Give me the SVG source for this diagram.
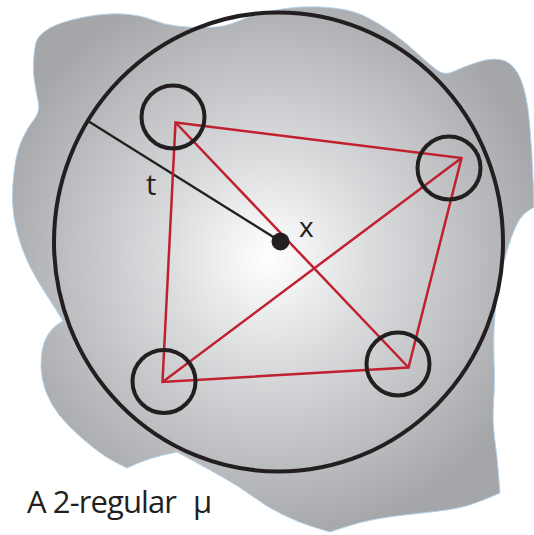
<svg xmlns="http://www.w3.org/2000/svg" width="534" height="535" viewBox="0 0 534 535">
<defs>
<radialGradient id="g" gradientUnits="userSpaceOnUse" cx="268" cy="258" r="285">
<stop offset="0" stop-color="#ffffff"/>
<stop offset="0.35" stop-color="#dcdddf"/>
<stop offset="1" stop-color="#a4a6a9"/>
</radialGradient>
<style>
.blk{fill:none;stroke:#231f20;stroke-width:4}
.red{fill:none;stroke:#c1202f;stroke-width:2.5;stroke-linejoin:miter}
.lbl{font-family:"Open Sans","Liberation Sans",sans-serif;fill:#231f20}
</style>
</defs>
<g id="region">
<path fill="url(#g)" stroke="#b3d2ea" stroke-width="1" d="M36,42.5 Q38,35 49,28.5 Q60,22 82.5,17.5 Q105,13 122.5,14 Q140,15 152.5,20 Q165,25 180,26.5 Q195,28 210,27.5 Q225,27 237.5,21.5 Q250,16 266.5,12 Q283,8 301.5,7 Q320,6 337.5,8.5 Q355,11 367.5,17.5 Q380,24 392.5,33 Q405,42 417.5,53.5 Q430,65 437.5,70.5 Q445,76 455,71 Q465,66 480,61.5 Q495,57 505,61 Q515,65 521,80 Q527,95 529.5,122.5 Q532,150 533,178.5 L534,207 L527,211.5 Q520,216 514,230.5 Q508,245 502.5,267.5 Q497,290 495,312.5 Q493,335 494,360 Q495,385 493.5,402.5 Q492,420 494.5,437.5 Q497,455 498.5,474 L500,493 L483.5,500 Q467,507 450,509.5 Q433,512 413,514 Q393,516 376.5,519 Q360,522 345,527 L330,532 L315,527.5 Q300,523 283.5,515 Q267,507 253.5,497 Q240,487 225,478.5 Q210,470 193.5,461 L177,452 L163.5,455 Q150,458 138.5,463 L127,468 L116,462.5 Q105,457 92.5,447 Q80,437 69,426 Q58,415 51.5,403.5 Q45,392 42.5,379.5 Q40,367 41.5,355 Q43,343 47.5,335.5 Q52,328 57.5,324.5 L63,321 L56.5,310.5 Q50,300 42.5,288.5 Q35,277 28.5,263.5 Q22,250 17.5,233.5 Q13,217 12.5,202 Q12,187 14.5,168.5 Q17,150 22.5,138.5 Q28,127 34,119.5 Q40,112 38.5,103.5 Q37,95 35,85 Q33,75 33.5,62.5 Q34,50 36,42.5 Z"/>
</g>
<g id="ball">
<ellipse class="blk" cx="278.5" cy="242" rx="224.5" ry="229.5"/>
</g>
<g id="connectors">
<line x1="88" y1="121" x2="280.5" y2="241.5" stroke="#231f20" stroke-width="2.3"/>
<path class="red" d="M175.5,122.5 L461.5,158 L408.5,367.5 L162.5,382 Z"/>
<line class="red" x1="175.5" y1="122.5" x2="408.5" y2="367.5"/>
<line class="red" x1="162.5" y1="382" x2="461.5" y2="158"/>
</g>
<g id="c1"><circle class="blk" cx="173" cy="117" r="31.5"/></g>
<g id="c2"><circle class="blk" cx="449" cy="168" r="31.5"/></g>
<g id="c3"><circle class="blk" cx="164" cy="381.5" r="31.5"/></g>
<g id="c4"><circle class="blk" cx="398" cy="364" r="31.5"/></g>
<g id="x">
<circle cx="280.5" cy="241.5" r="9" fill="#231f20"/>
<text class="lbl" x="299" y="236.7" font-size="28">x</text>
</g>
<text class="lbl" x="146" y="195" font-size="29">t</text>
<text class="lbl" x="27" y="512.7" font-size="31" textLength="150" lengthAdjust="spacing">A 2-regular</text>
<text class="lbl" x="193" y="512.7" font-size="31">μ</text>
</svg>
